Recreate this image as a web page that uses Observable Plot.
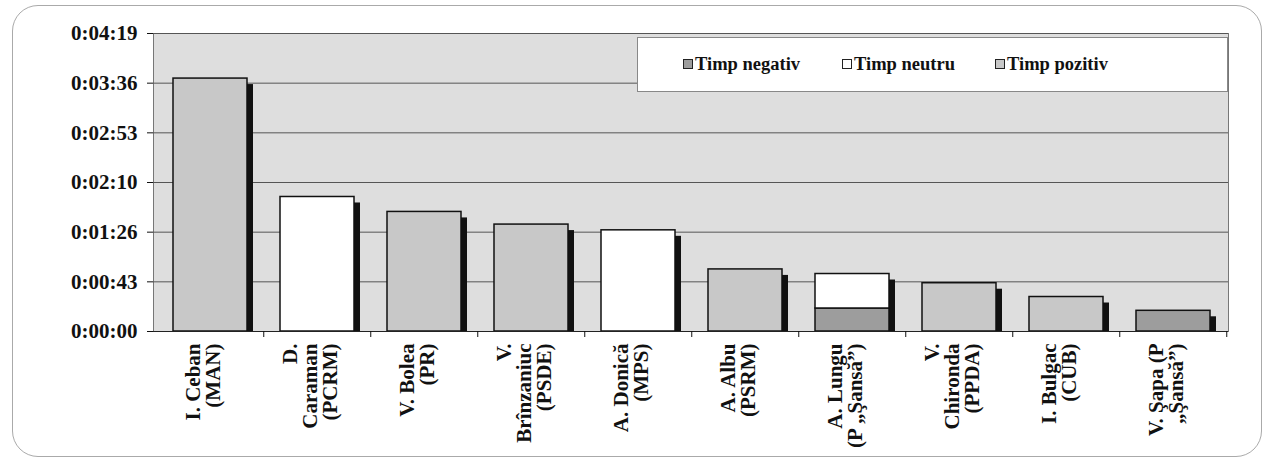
<!DOCTYPE html>
<html><head><meta charset="utf-8">
<script src="https://cdn.jsdelivr.net/npm/d3@7"></script>
<script src="https://cdn.jsdelivr.net/npm/@observablehq/plot@0.6"></script>
<style>
body{margin:0;background:#fff;}
#wrap{position:relative;width:1266px;height:462px;overflow:hidden;font-family:"Liberation Serif","Tinos","DejaVu Serif",serif;}
#wrap svg{position:absolute;left:0;top:0;}
#wrap svg text{font-family:"Liberation Serif","Tinos","DejaVu Serif",serif;}
#border{position:absolute;left:12px;top:5px;width:1250px;height:452px;border:1px solid #aaa;border-radius:26px;box-sizing:border-box;}
#legend{position:absolute;left:637px;top:37px;width:591px;height:55px;background:#fff;border:1px solid #888;box-sizing:border-box;font-weight:bold;font-size:18.5px;color:#111;}
.item{position:absolute;top:15px;white-space:nowrap;line-height:22px;}
.sw{display:inline-block;width:8px;height:8px;border:1px solid #222;margin-right:2px;vertical-align:1px;}
</style>
</head><body>
<div id="wrap"><div id="border"></div></div>
<script>
// ---- data (seconds) ----
const candidates = [
  "I. Ceban\n(MAN)",
  "D.\nCaraman\n(PCRM)",
  "V. Bolea\n(PR)",
  "V.\nBrînzaniuc\n(PSDE)",
  "A. Donică\n(MPS)",
  "A. Albu\n(PSRM)",
  "A. Lungu\n(P „Şansă”)",
  "V.\nChironda\n(PPDA)",
  "I. Bulgac\n(CUB)",
  "V. Şapa (P\n„Şansă”)"
];
const timpNegativ = [0, 0, 0, 0, 0, 0, 20, 0, 0, 18];
const timpNeutru  = [0, 117, 0, 0, 88, 0, 30, 0, 0, 0];
const timpPozitiv = [220, 0, 104, 93, 0, 54, 0, 42, 30, 0];
const seriesNames = ["Timp negativ", "Timp neutru", "Timp pozitiv"];
const seriesColors = ["#9d9d9d", "#ffffff", "#c8c8c8"];
const yTickValues = [0, 43.2, 86.4, 129.6, 172.8, 216, 259.2];
const yTickLabels = ["0:00:00", "0:00:43", "0:01:26", "0:02:10", "0:02:53", "0:03:36", "0:04:19"];

// ---- table ----
const seriesValues = [timpNegativ, timpNeutru, timpPozitiv];
const rows = [];
candidates.forEach((c, i) => {
  seriesNames.forEach((s, k) => {
    if (seriesValues[k][i] > 0) rows.push({cand: c, series: s, value: seriesValues[k][i]});
  });
});
const totals = candidates.map((c, i) => ({cand: c, total: timpNegativ[i] + timpNeutru[i] + timpPozitiv[i]}));

const W = 1266, H = 462, mL = 153, mR = 38, mT = 33, mB = 131;
const step = (W - mL - mR) / candidates.length;
const FONT = "'Liberation Serif','Tinos','DejaVu Serif',serif";

const chart = Plot.plot({
  width: W, height: H,
  marginLeft: mL, marginRight: mR, marginTop: mT, marginBottom: mB,
  style: {fontFamily: FONT, fontWeight: "bold", fontSize: "20px", color: "#111", background: "transparent"},
  x: {domain: candidates, padding: 0, label: null},
  y: {domain: [0, 259.2], label: null},
  color: {domain: seriesNames, range: seriesColors},
  marks: [
    Plot.frame({fill: "#dedede", stroke: "#777"}),
    Plot.gridY(yTickValues, {stroke: "#555", strokeOpacity: 1, strokeWidth: 1}),
    Plot.rectY(totals, {x: "cand", y1: 0, y2: "total", fill: "#111", dx: 6, insetTop: 6, insetLeft: 17, insetRight: 16}),
    Plot.barY(rows, {x: "cand", y: "value", fill: "series", stroke: "#111", strokeWidth: 1.5, insetLeft: 17, insetRight: 16}),
    Plot.ruleY([0], {stroke: "#222", strokeWidth: 1}),
    Plot.axisY({ticks: yTickValues, tickFormat: (d, i) => yTickLabels[i], tickSize: 6, tickPadding: 10, label: null, fontSize: 21, fontFamily: FONT}),
    Plot.axisX({tickSize: 0, tickPadding: 12, tickRotate: -90, label: null, fontSize: 21, lineHeight: 0.95, dx: -6, fontFamily: FONT}),
    Plot.axisX({tickSize: 6, tickFormat: () => "", dx: step / 2, label: null})
  ]
});
document.getElementById("wrap").appendChild(chart);

// ---- legend (HTML) ----
const legend = document.createElement("div");
legend.id = "legend";
const legendLeft = [45, 204, 357];
seriesNames.forEach((s, k) => {
  const it = document.createElement("div");
  it.className = "item";
  it.style.left = legendLeft[k] + "px";
  const sw = document.createElement("span");
  sw.className = "sw";
  sw.style.background = seriesColors[k];
  it.appendChild(sw);
  it.appendChild(document.createTextNode(s));
  legend.appendChild(it);
});
document.getElementById("wrap").appendChild(legend);
</script>
</body></html>
